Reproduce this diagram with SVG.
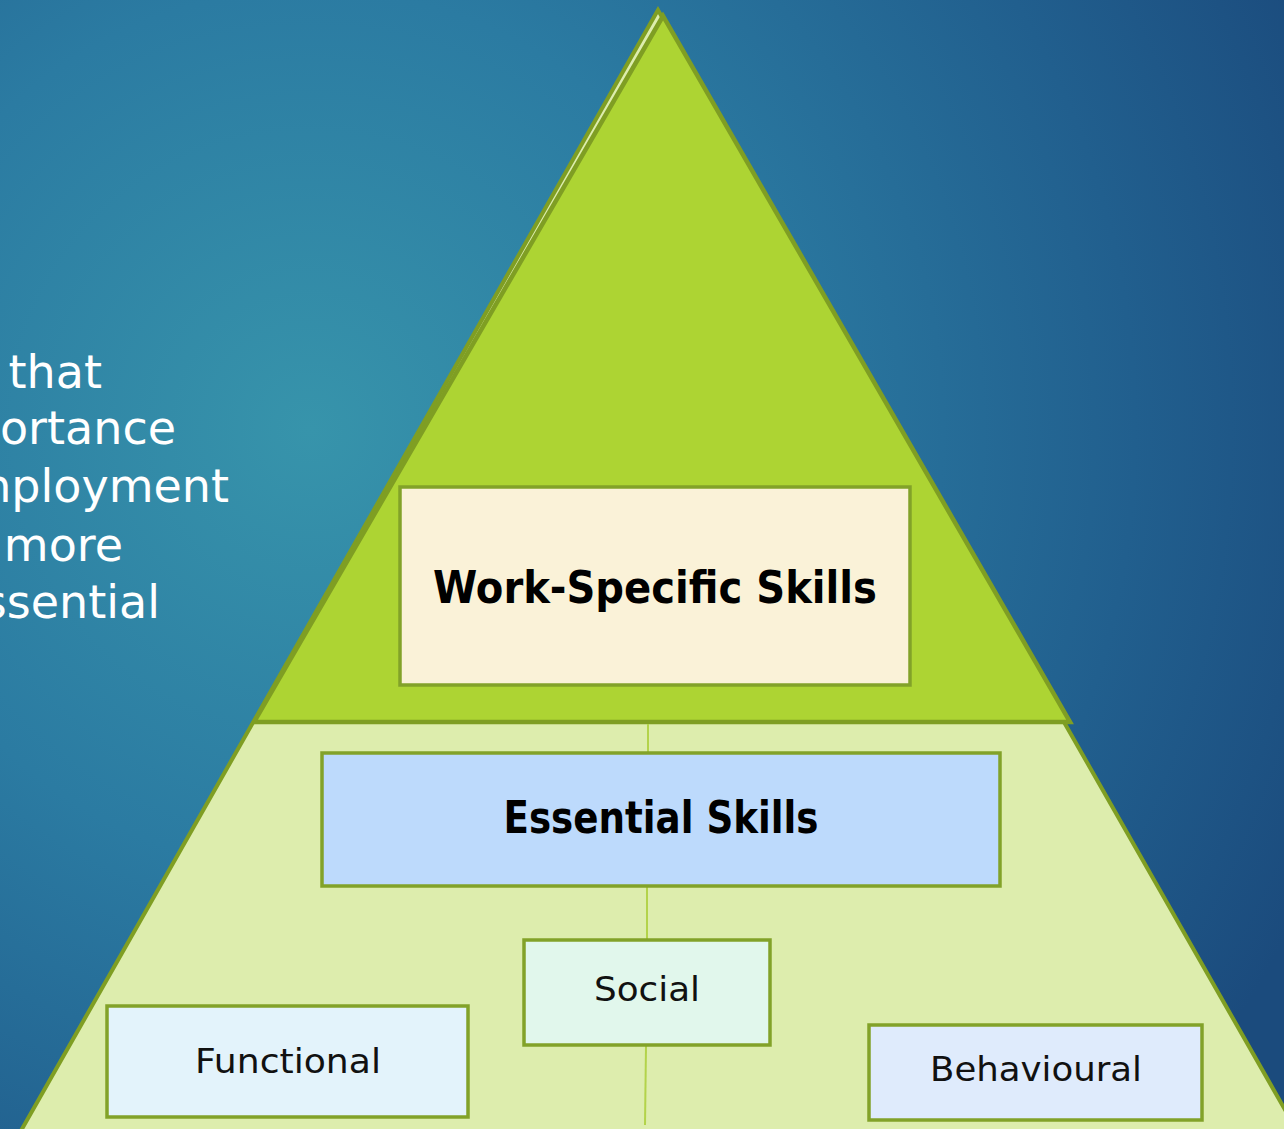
<svg xmlns="http://www.w3.org/2000/svg" width="1284" height="1129" viewBox="0 0 1284 1129">
<defs>
<radialGradient id="bg" gradientUnits="userSpaceOnUse" cx="310" cy="430" r="1100">
<stop offset="0" stop-color="#3794AB"/>
<stop offset="0.4" stop-color="#2B7BA2"/>
<stop offset="0.75" stop-color="#215F8E"/>
<stop offset="1" stop-color="#1B4B7D"/>
</radialGradient>
<style>
.box{stroke:#82A229;stroke-width:3.5}
.bold{font-family:"DejaVu Sans",sans-serif;font-weight:bold;fill:#000;text-anchor:middle;font-size:44px}
.reg{font-family:"DejaVu Sans",sans-serif;fill:#111;text-anchor:middle;font-size:33px}
.side{font-family:"DejaVu Sans",sans-serif;fill:#fff;text-anchor:end;font-size:46px}
.vline{stroke:#B3D34A;stroke-width:2;fill:none}
</style>
</defs>
<rect width="1284" height="1129" fill="url(#bg)"/>
<g id="sidetext">
<text class="side" x="102" y="388">that</text>
<text class="side" x="176" y="444">ortance</text>
<text class="side" x="229" y="502">nployment</text>
<text class="side" x="123" y="561">more</text>
<text class="side" x="160" y="618">ssential</text>
</g>
<g id="pyramid-base">
<polygon points="658,10 18,1136 1300,1136" fill="#DDEDAD" stroke="#7F9E23" stroke-width="4"/>
</g>
<g id="pyramid-top">
<polygon points="663,16 254,722 1070,722" fill="#ADD433" stroke="#7F9E23" stroke-width="4.5"/>
</g>
<g id="connectors">
<line class="vline" x1="648" y1="724" x2="648" y2="752"/>
<line class="vline" x1="647" y1="887" x2="647" y2="939"/>
<line class="vline" x1="646" y1="1046" x2="645" y2="1125"/>
</g>
<g id="work-specific">
<rect class="box" x="400" y="487" width="510" height="198" fill="#FAF2D8"/>
<text class="bold" x="655" y="603" textLength="444" lengthAdjust="spacingAndGlyphs">Work-Specific Skills</text>
</g>
<g id="essential">
<rect class="box" x="322" y="753" width="678" height="133" fill="#BDDAFC"/>
<text class="bold" x="661" y="833" textLength="315" lengthAdjust="spacingAndGlyphs">Essential Skills</text>
</g>
<g id="social">
<rect class="box" x="524" y="940" width="246" height="105" fill="#E1F7EC"/>
<text class="reg" x="647" y="1001" textLength="106" lengthAdjust="spacingAndGlyphs">Social</text>
</g>
<g id="functional">
<rect class="box" x="107" y="1006" width="361" height="111" fill="#E3F3FB"/>
<text class="reg" x="288" y="1073" textLength="186" lengthAdjust="spacingAndGlyphs">Functional</text>
</g>
<g id="behavioural">
<rect class="box" x="869" y="1025" width="333" height="95" fill="#DFEBFC"/>
<text class="reg" x="1036" y="1081" textLength="212" lengthAdjust="spacingAndGlyphs">Behavioural</text>
</g>
</svg>
